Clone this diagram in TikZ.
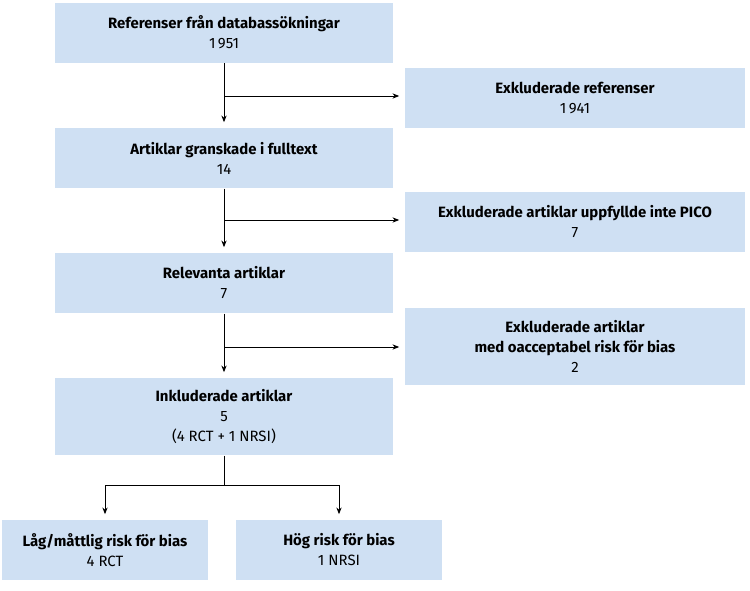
\documentclass[tikz,border=0pt]{standalone}
\usepackage{fontspec}
\setmainfont{Fira Sans}
\usetikzlibrary{arrows.meta}
\definecolor{boxblue}{RGB}{207,224,243}

\begin{document}
\begin{tikzpicture}[x=0.75pt, y=-0.75pt, line width=0.75pt,
  box/.style={fill=boxblue, align=center, inner sep=0pt, minimum height=45pt,
    font=\fontsize{11.2}{15}\selectfont},
  mainbox/.style={box, minimum width=253.5pt},
  sidebox/.style={box, minimum width=255pt},
  leafbox/.style={box, minimum width=154pt},
  flow/.style={-{Stealth[length=5pt,width=4pt]}, shorten >=4pt},
]
  \useasboundingbox (0,0) rectangle (750,590);
  % main column
  \node[mainbox] (refs) at (224,32.5) {\textbf{Referenser från databassökningar}\\1\,951};
  \node[mainbox] (full) at (224,158) {\textbf{Artiklar granskade i fulltext}\\14};
  \node[mainbox] (relev) at (224,283) {\textbf{Relevanta artiklar}\\7};
  \node[mainbox, minimum height=57.75pt] (incl) at (224,416.5)
    {\textbf{Inkluderade artiklar}\\5\\(4 RCT + 1 NRSI)};
  % excluded
  \node[sidebox] (exref) at (575,98) {\textbf{Exkluderade referenser}\\1\,941};
  \node[sidebox] (expico) at (575,222) {\textbf{Exkluderade artiklar uppfyllde inte PICO}\\7};
  \node[sidebox, minimum height=57.75pt] (exbias) at (575,346.5)
    {\textbf{Exkluderade artiklar}\\\textbf{med oacceptabel risk för bias}\\2};
  % risk of bias
  \node[leafbox] (low) at (105,550) {\textbf{Låg/måttlig risk för bias}\\4 RCT};
  \node[leafbox] (high) at (339,550) {\textbf{Hög risk för bias}\\1 NRSI};

  \coordinate (s1) at (224,96);
  \coordinate (s2) at (224,220);
  \coordinate (s3) at (224,347);
  \coordinate (s4) at (224,485);

  \draw[flow] (refs) -- (full);
  \draw[flow] (full) -- (relev);
  \draw[flow] (relev) -- (incl);
  \draw[flow] (s1) -- (s1 -| exref.west);
  \draw[flow] (s2) -- (s2 -| expico.west);
  \draw[flow] (s3) -- (s3 -| exbias.west);
  \draw (incl) -- (s4);
  \draw[flow] (s4) -| (low);
  \draw[flow] (s4) -| (high);
\end{tikzpicture}
\end{document}
